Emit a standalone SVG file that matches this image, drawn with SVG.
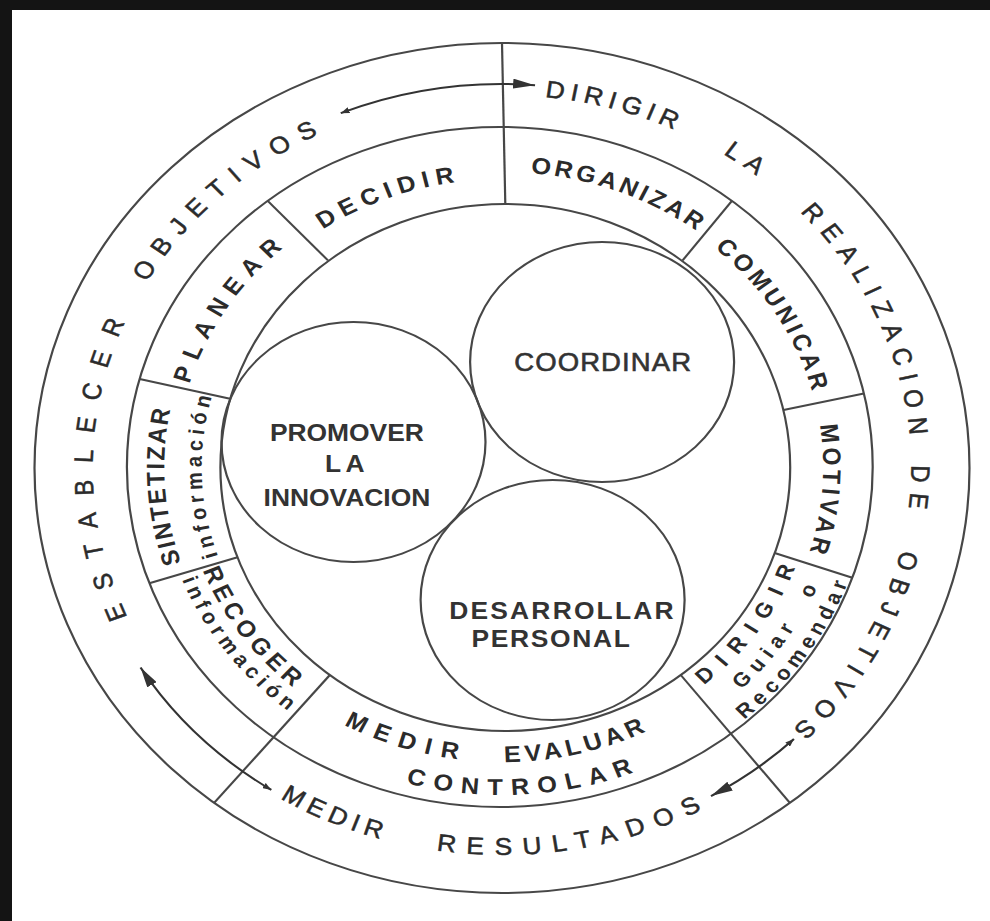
<svg xmlns="http://www.w3.org/2000/svg" width="990" height="921" viewBox="0 0 990 921">
<style>
.ln{fill:none;stroke:#474747;stroke-width:2}
.o{font-family:"Liberation Sans",Arial,sans-serif;font-size:24px;fill:#2b2b2b;stroke:#2b2b2b;stroke-width:.5}
.m{font-family:"Liberation Sans",Arial,sans-serif;font-size:23px;font-weight:bold;fill:#2b2b2b}
.s{font-family:"Liberation Sans",Arial,sans-serif;font-size:20px;font-weight:bold;fill:#2b2b2b}
.c{font-family:"Liberation Sans",Arial,sans-serif;font-size:24px;font-weight:bold;fill:#333;text-anchor:middle}
.ar{fill:none;stroke:#333;stroke-width:2}
</style>
<defs>
<marker id="ah" viewBox="0 0 20 10" refX="20" refY="5" markerWidth="20" markerHeight="10" markerUnits="userSpaceOnUse" orient="auto"><path d="M0,0 L20,5 L0,10 Z" fill="#333"/></marker>
<marker id="tl" viewBox="0 0 8 6" refX="8" refY="3" markerWidth="8" markerHeight="6" markerUnits="userSpaceOnUse" orient="auto-start-reverse"><path d="M0,0 L8,3 L0,6 Z" fill="#333"/></marker>
<path id="t1" d="M -266.7,259.4 A 372 372 0 0 1 -259.4,-266.7"/>
<path id="t2" d="M -368.9,-47.6 A 372 372 0 0 1 -17.2,-371.6"/>
<path id="t3" d="M -90.9,-360.7 A 372 372 0 0 1 266.9,-259.1"/>
<path id="t4" d="M 103.8,-357.2 A 372 372 0 0 1 309.1,-207.0"/>
<path id="t5" d="M 166.6,-332.6 A 372 372 0 0 1 356.5,106.3"/>
<path id="t6" d="M 357.2,-104.0 A 372 372 0 0 1 340.5,150.0"/>
<path id="t7" d="M 370.3,-35.6 A 372 372 0 0 1 160.1,335.8"/>
<path id="t8" d="M -312.1,230.5 A 388 388 0 0 0 43.7,385.5"/>
<path id="t9" d="M -192.3,337.0 A 388 388 0 0 0 298.4,247.9"/>
<path id="m1" d="M -206.8,-200.4 A 288 288 0 0 1 20.6,-287.3"/>
<path id="m2" d="M -293.3,-40.2 A 296 296 0 0 1 -157.7,-250.5"/>
<path id="m3" d="M -19.6,-294.4 A 295 295 0 0 1 212.9,-204.2"/>
<path id="m4" d="M 161.2,-243.5 A 292 292 0 0 1 290.1,-33.1"/>
<path id="m5" d="M 278.7,-87.0 A 292 292 0 0 1 261.0,131.0"/>
<path id="m6" d="M -269.8,146.5 A 307 307 0 0 1 -285.6,-112.5"/>
<path id="m7" d="M -244.1,122.2 A 273 273 0 0 1 -250.6,-108.4"/>
<path id="m8" d="M -286.2,52.7 A 291 291 0 0 0 -143.6,253.1"/>
<path id="m9" d="M -305.4,63.5 A 312 312 0 0 0 -147.7,274.8"/>
<path id="m10" d="M -180.1,233.6 A 295 295 0 0 0 12.2,294.7"/>
<path id="m11" d="M -32.1,293.3 A 295 295 0 0 0 163.9,245.3"/>
<path id="m12" d="M -119.3,305.5 A 328 328 0 0 0 157.3,287.8"/>
<path id="m13" d="M 158.5,236.9 A 285 285 0 0 0 278.6,60.2"/>
<path id="m14" d="M 175.5,256.8 A 311 311 0 0 0 304.6,62.8"/>
<path id="m15" d="M 186.4,278.4 A 335 335 0 0 0 327.4,70.8"/>
</defs>
<rect x="0" y="0" width="990" height="921" fill="#fff"/>
<rect x="0" y="0" width="990" height="10" fill="#141414"/>
<rect x="0" y="0" width="12" height="921" fill="#141414"/>
<g transform="translate(502,467) scale(1.1,1)">
  <g id="rings">
    <circle class="ln" cx="0" cy="1" r="425"/>
    <ellipse class="ln" cx="-2" cy="0" rx="339" ry="340"/>
    <ellipse class="ln" cx="3" cy="0.5" rx="259" ry="263.5"/>
  </g>
  <g id="dividers" class="ln">
    <line x1="3" y1="-263" x2="0" y2="-424"/>
    <line x1="-156.5" y1="208" x2="-261.7" y2="335.9"/>
    <line x1="162.5" y1="208" x2="261.7" y2="335.9"/>
    <line x1="-158.2" y1="-206.6" x2="-213" y2="-266.1"/>
    <line x1="-247.2" y1="-68.3" x2="-329.4" y2="-88"/>
    <line x1="-240.4" y1="90.3" x2="-320.6" y2="116.3"/>
    <line x1="247.9" y1="86" x2="318.5" y2="110.7"/>
    <line x1="255.9" y1="-57.1" x2="329" y2="-73.6"/>
    <line x1="164.2" y1="-206.6" x2="209" y2="-266.1"/>
  </g>
  <g id="establecer-objetivos" class="o">
    <text><textPath href="#t1" startOffset="50%" text-anchor="middle" style="letter-spacing:16.2px">ESTABLECER</textPath></text>
    <text><textPath href="#t2" startOffset="50%" text-anchor="middle" style="letter-spacing:10.4px">OBJETIVOS</textPath></text>
  </g>
  <g id="dirigir-realizacion" class="o">
    <text><textPath href="#t3" startOffset="50%" text-anchor="middle" style="letter-spacing:5.3px">DIRIGIR</textPath></text>
    <text><textPath href="#t4" startOffset="50%" text-anchor="middle" style="letter-spacing:8.1px">LA</textPath></text>
    <text><textPath href="#t5" startOffset="50%" text-anchor="middle" style="letter-spacing:8.9px">REALIZACION</textPath></text>
    <text><textPath href="#t6" startOffset="50%" text-anchor="middle" style="letter-spacing:9.9px">DE</textPath></text>
    <text><textPath href="#t7" startOffset="50%" text-anchor="middle" style="letter-spacing:9px">OBJETIVOS</textPath></text>
  </g>
  <g id="medir-resultados" class="o">
    <text><textPath href="#t8" startOffset="50%" text-anchor="middle" style="letter-spacing:5.6px">MEDIR</textPath></text>
    <text><textPath href="#t9" startOffset="50%" text-anchor="middle" style="letter-spacing:10px">RESULTADOS</textPath></text>
  </g>
  <g id="decidir" class="m"><text><textPath href="#m1" startOffset="50%" text-anchor="middle" style="letter-spacing:5.9px">DECIDIR</textPath></text></g>
  <g id="planear" class="m"><text><textPath href="#m2" startOffset="50%" text-anchor="middle" style="letter-spacing:8.5px">PLANEAR</textPath></text></g>
  <g id="organizar" class="m"><text><textPath href="#m3" startOffset="50%" text-anchor="middle" style="letter-spacing:3px">ORGANIZAR</textPath></text></g>
  <g id="comunicar" class="m"><text><textPath href="#m4" startOffset="50%" text-anchor="middle" style="letter-spacing:3.5px">COMUNICAR</textPath></text></g>
  <g id="motivar" class="m"><text><textPath href="#m5" startOffset="50%" text-anchor="middle" style="letter-spacing:4px">MOTIVAR</textPath></text></g>
  <g id="sintetizar">
    <text class="m"><textPath href="#m6" startOffset="50%" text-anchor="middle" style="letter-spacing:2.2px">SINTETIZAR</textPath></text>
    <text class="s"><textPath href="#m7" startOffset="50%" text-anchor="middle" style="letter-spacing:4.7px">información</textPath></text>
  </g>
  <g id="recoger">
    <text class="m"><textPath href="#m8" startOffset="50%" text-anchor="middle" style="letter-spacing:4.7px">RECOGER</textPath></text>
    <text class="s"><textPath href="#m9" startOffset="50%" text-anchor="middle" style="letter-spacing:5px">información</textPath></text>
  </g>
  <g id="medir-evaluar-controlar" class="m">
    <text><textPath href="#m10" startOffset="50%" text-anchor="middle" style="letter-spacing:8.9px">MEDIR</textPath></text>
    <text><textPath href="#m11" startOffset="50%" text-anchor="middle" style="letter-spacing:4px">EVALUAR</textPath></text>
    <text><textPath href="#m12" startOffset="50%" text-anchor="middle" style="letter-spacing:8px">CONTROLAR</textPath></text>
  </g>
  <g id="dirigir-guiar">
    <text class="m" style="font-size:21px"><textPath href="#m13" startOffset="50%" text-anchor="middle" style="letter-spacing:11px">DIRIGIR</textPath></text>
    <text class="s"><textPath href="#m14" startOffset="50%" text-anchor="middle" style="letter-spacing:6.5px;word-spacing:15px">Guiar o</textPath></text>
    <text class="s"><textPath href="#m15" startOffset="50%" text-anchor="middle" style="letter-spacing:5.1px">Recomendar</textPath></text>
  </g>
  <g id="promover">
    <circle class="ln" cx="-135" cy="-25" r="120"/>
    <text class="c" x="-141" y="-26">PROMOVER</text>
    <text class="c" x="-141" y="5" style="letter-spacing:4px">LA</text>
    <text class="c" x="-141" y="39">INNOVACION</text>
  </g>
  <g id="coordinar">
    <circle class="ln" cx="91" cy="-105" r="120"/>
    <text class="c" x="92" y="-96" style="font-weight:normal;font-size:25px;stroke:#333;stroke-width:.6;letter-spacing:1px">COORDINAR</text>
  </g>
  <g id="desarrollar">
    <circle class="ln" cx="46" cy="133" r="120"/>
    <text class="c" x="55" y="152" style="letter-spacing:2px">DESARROLLAR</text>
    <text class="c" x="45" y="180" style="letter-spacing:1.5px">PERSONAL</text>
  </g>
  <g id="connectors">
    <path class="ar" d="M -146.6,-353.8 A 383 383 0 0 1 30.05,-381.8" marker-start="url(#tl)" marker-end="url(#ah)"/>
    <path class="ar" d="M 265.4,272 A 380 380 0 0 1 190,329.1" marker-start="url(#tl)" marker-end="url(#ah)"/>
    <path class="ar" d="M -209.7,322.9 A 385 385 0 0 1 -328.6,200.6" marker-start="url(#tl)" marker-end="url(#ah)"/>
  </g>
</g>
</svg>
